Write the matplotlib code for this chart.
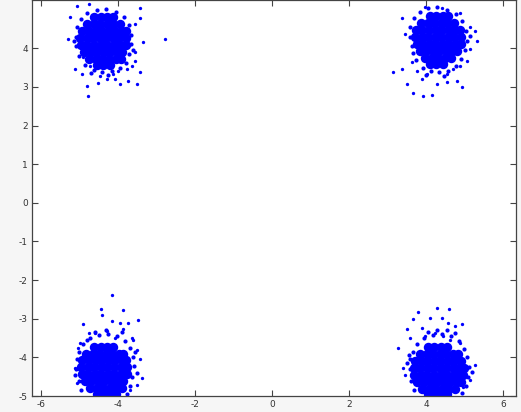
import matplotlib
matplotlib.use("Agg")
import matplotlib.pyplot as plt

# ---- data (four clusters: dense core, fuzzy rim, sparse outliers) ----
tl_core_x = [-4.62, -4.45, -4.28, -4.12,
             -4.80, -4.63, -4.46, -4.29, -4.12, -3.95,
             -4.92, -4.75, -4.58, -4.41, -4.24, -4.07, -3.90, -3.80,
             -4.98, -4.81, -4.64, -4.47, -4.30, -4.13, -3.96, -3.79,
             -4.96, -4.79, -4.62, -4.45, -4.28, -4.11, -3.94, -3.80,
             -4.88, -4.71, -4.54, -4.37, -4.20, -4.03, -3.88,
             -4.74, -4.57, -4.40, -4.23, -4.06, -3.92,
             -4.55, -4.38, -4.21]
tl_core_y = [4.80, 4.80, 4.80, 4.80,
             4.62, 4.62, 4.62, 4.62, 4.62, 4.62,
             4.44, 4.44, 4.44, 4.44, 4.44, 4.44, 4.44, 4.44,
             4.26, 4.26, 4.26, 4.26, 4.26, 4.26, 4.26, 4.26,
             4.08, 4.08, 4.08, 4.08, 4.08, 4.08, 4.08, 4.08,
             3.90, 3.90, 3.90, 3.90, 3.90, 3.90, 3.90,
             3.72, 3.72, 3.72, 3.72, 3.72, 3.72,
             3.58, 3.58, 3.58]
tl_rim_x = [-5.10, -5.08, -5.05, -4.95, -4.80, -4.55, -4.30, -4.05, -3.85, -3.70,
            -3.65, -3.66, -3.72, -3.80, -3.95, -4.15, -4.40, -4.62, -4.85, -5.00,
            -5.15, -3.60, -4.25, -4.70]
tl_rim_y = [4.30, 4.05, 4.55, 4.75, 4.92, 5.00, 5.02, 4.95, 4.82, 4.60,
            4.35, 4.10, 3.85, 3.62, 3.48, 3.40, 3.38, 3.45, 3.58, 3.80,
            4.18, 3.95, 3.30, 3.35]
tl_out_x = [-5.25, -5.06, -4.75, -3.43, -3.43, -3.56, -3.35, -2.78, -5.30, -5.12,
            -4.94, -4.81, -4.78, -4.52, -4.29, -4.08, -3.95, -3.74, -3.51, -3.43,
            -3.56, -3.64, -4.13, -4.47, -3.77, -4.73, -4.39, -4.00, -4.91, -3.56]
tl_out_y = [4.82, 5.10, 5.15, 5.03, 4.79, 4.62, 4.15, 4.25, 4.23, 3.46,
            3.33, 3.03, 2.77, 3.10, 3.20, 3.20, 3.08, 3.15, 3.08, 3.38,
            3.67, 3.54, 3.33, 3.28, 3.46, 3.54, 3.51, 3.41, 3.77, 3.90]

tr_core_x = [4.10, 4.27, 4.44, 4.58,
             3.88, 4.05, 4.22, 4.39, 4.56, 4.73,
             3.74, 3.91, 4.08, 4.25, 4.42, 4.59, 4.76, 4.88,
             3.72, 3.89, 4.06, 4.23, 4.40, 4.57, 4.74, 4.90,
             3.76, 3.93, 4.10, 4.27, 4.44, 4.61, 4.78, 4.90,
             3.84, 4.01, 4.18, 4.35, 4.52, 4.69, 4.82,
             3.98, 4.15, 4.32, 4.49, 4.66,
             4.10, 4.27, 4.44]
tr_core_y = [4.84, 4.84, 4.84, 4.84,
             4.66, 4.66, 4.66, 4.66, 4.66, 4.66,
             4.48, 4.48, 4.48, 4.48, 4.48, 4.48, 4.48, 4.48,
             4.30, 4.30, 4.30, 4.30, 4.30, 4.30, 4.30, 4.30,
             4.12, 4.12, 4.12, 4.12, 4.12, 4.12, 4.12, 4.12,
             3.94, 3.94, 3.94, 3.94, 3.94, 3.94, 3.94,
             3.76, 3.76, 3.76, 3.76, 3.76,
             3.60, 3.60, 3.60]
tr_rim_x = [3.58, 3.60, 3.65, 3.70, 3.85, 4.05, 4.30, 4.55, 4.78, 4.95,
            5.05, 5.08, 5.02, 4.92, 4.78, 4.58, 4.35, 4.12, 3.92, 3.75,
            3.66, 4.48, 4.00, 5.15]
tr_rim_y = [4.30, 4.55, 4.05, 4.78, 4.95, 5.05, 5.06, 5.00, 4.88, 4.70,
            4.45, 4.20, 3.95, 3.72, 3.55, 3.42, 3.38, 3.40, 3.50, 3.70,
            3.88, 3.28, 3.30, 4.33]
tr_out_x = [3.38, 3.45, 3.97, 4.42, 4.88, 5.14, 5.27, 5.32, 5.14, 5.06,
            3.14, 3.38, 3.51, 3.66, 3.92, 4.16, 4.29, 4.55, 4.94, 4.81,
            3.90, 4.03, 3.77, 4.55, 4.70, 4.88, 3.64]
tr_out_y = [4.79, 4.36, 5.08, 5.05, 4.92, 4.56, 4.44, 4.18, 3.97, 3.67,
            3.38, 3.46, 3.08, 2.85, 2.77, 2.80, 3.08, 3.13, 3.00, 3.15,
            3.20, 3.33, 3.41, 3.33, 3.46, 3.54, 3.64]

bl_core_x = [-4.62, -4.45, -4.28, -4.12,
             -4.82, -4.65, -4.48, -4.31, -4.14, -3.98, -3.86,
             -4.92, -4.75, -4.58, -4.41, -4.24, -4.07, -3.90, -3.78,
             -4.95, -4.78, -4.61, -4.44, -4.27, -4.10, -3.93, -3.76,
             -4.94, -4.77, -4.60, -4.43, -4.26, -4.09, -3.92, -3.76,
             -4.86, -4.69, -4.52, -4.35, -4.18, -4.01, -3.86,
             -4.72, -4.55, -4.38, -4.21, -4.04, -3.90,
             -4.55, -4.38, -4.21, -4.05]
bl_core_y = [-3.72, -3.72, -3.72, -3.72,
             -3.90, -3.90, -3.90, -3.90, -3.90, -3.90, -3.90,
             -4.08, -4.08, -4.08, -4.08, -4.08, -4.08, -4.08, -4.08,
             -4.26, -4.26, -4.26, -4.26, -4.26, -4.26, -4.26, -4.26,
             -4.44, -4.44, -4.44, -4.44, -4.44, -4.44, -4.44, -4.44,
             -4.62, -4.62, -4.62, -4.62, -4.62, -4.62, -4.62,
             -4.80, -4.80, -4.80, -4.80, -4.80, -4.80,
             -4.95, -4.95, -4.95, -4.95]
bl_rim_x = [-5.08, -5.05, -5.02, -5.00, -4.90, -4.72, -4.50, -4.25, -4.02, -3.82,
            -3.68, -3.60, -3.58, -3.62, -3.68, -3.75, -4.95, -4.30, -4.60, -3.90,
            -3.50, -3.55, -4.80, -5.12]
bl_rim_y = [-4.30, -4.05, -4.60, -3.85, -3.65, -3.50, -3.42, -3.40, -3.45, -3.58,
            -3.75, -3.98, -4.22, -4.50, -4.75, -4.95, -4.85, -3.30, -3.35, -3.35,
            -4.40, -3.85, -3.55, -4.45]
bl_out_x = [-4.16, -3.87, -4.44, -4.42, -4.91, -4.16, -3.95, -3.74, -3.48, -4.60,
            -4.29, -3.87, -3.64, -3.61, -3.51, -3.43, -3.38, -3.51, -5.12, -5.04,
            -4.99, -4.75, -5.06, -3.69, -4.08]
bl_out_y = [-2.38, -2.77, -2.74, -2.90, -3.13, -3.05, -3.10, -3.10, -3.03, -3.36,
            -3.31, -3.26, -3.49, -3.56, -3.82, -4.03, -4.54, -4.72, -4.28, -3.77,
            -3.64, -3.38, -4.67, -4.85, -3.49]

br_core_x = [4.05, 4.22, 4.39, 4.56,
             3.85, 4.02, 4.19, 4.36, 4.53, 4.70, 4.84,
             3.72, 3.89, 4.06, 4.23, 4.40, 4.57, 4.74, 4.90,
             3.68, 3.85, 4.02, 4.19, 4.36, 4.53, 4.70, 4.87, 4.98,
             3.70, 3.87, 4.04, 4.21, 4.38, 4.55, 4.72, 4.89, 4.96,
             3.78, 3.95, 4.12, 4.29, 4.46, 4.63, 4.80, 4.90,
             3.90, 4.07, 4.24, 4.41, 4.58, 4.75,
             4.05, 4.22, 4.39, 4.56]
br_core_y = [-3.74, -3.74, -3.74, -3.74,
             -3.92, -3.92, -3.92, -3.92, -3.92, -3.92, -3.92,
             -4.10, -4.10, -4.10, -4.10, -4.10, -4.10, -4.10, -4.10,
             -4.28, -4.28, -4.28, -4.28, -4.28, -4.28, -4.28, -4.28, -4.28,
             -4.46, -4.46, -4.46, -4.46, -4.46, -4.46, -4.46, -4.46, -4.46,
             -4.64, -4.64, -4.64, -4.64, -4.64, -4.64, -4.64, -4.64,
             -4.82, -4.82, -4.82, -4.82, -4.82, -4.82,
             -4.95, -4.95, -4.95, -4.95]
br_rim_x = [3.58, 3.60, 3.62, 3.66, 3.78, 3.95, 4.18, 4.42, 4.65, 4.85,
            5.00, 5.08, 5.12, 5.10, 5.05, 4.95, 3.70, 4.30, 4.05, 4.75,
            5.20, 3.50, 3.55, 4.55]
br_rim_y = [-4.30, -4.05, -4.60, -3.85, -3.65, -3.50, -3.42, -3.40, -3.45, -3.58,
            -3.78, -4.00, -4.25, -4.50, -4.75, -4.92, -4.85, -3.30, -3.35, -3.38,
            -4.38, -4.15, -3.95, -3.28]
br_out_x = [4.29, 3.79, 3.66, 4.60, 4.10, 4.42, 4.57, 4.75, 4.94, 3.51,
            3.90, 3.97, 4.23, 4.44, 3.27, 3.58, 3.40, 3.45, 5.27, 5.14,
            4.96, 3.84, 4.29, 3.66, 4.88, 4.62]
br_out_y = [-2.72, -2.82, -3.00, -2.74, -2.97, -2.97, -3.10, -3.18, -3.13, -3.26,
            -3.23, -3.44, -3.36, -3.44, -3.77, -3.51, -4.28, -4.46, -4.21, -4.59,
            -4.77, -4.77, -4.95, -4.59, -3.62, -3.56]

x_ticks = [-6, -4, -2, 0, 2, 4, 6]
y_ticks = [-5, -4, -3, -2, -1, 0, 1, 2, 3, 4]

# ---- figure ----
fig = plt.figure(figsize=(5.21, 4.12), dpi=100, facecolor="#f6f6f6")
ax = fig.add_axes([32 / 521, 16 / 412, 484 / 521, 396 / 412])
ax.set_facecolor("white")

blue = "#0000ff"
for cx, cy in [(tl_core_x, tl_core_y), (tr_core_x, tr_core_y),
               (bl_core_x, bl_core_y), (br_core_x, br_core_y)]:
    ax.plot(cx, cy, linestyle="none", marker="o", markersize=6.8,
            markeredgewidth=0, color=blue)
for rx, ry in [(tl_rim_x, tl_rim_y), (tr_rim_x, tr_rim_y),
               (bl_rim_x, bl_rim_y), (br_rim_x, br_rim_y)]:
    ax.plot(rx, ry, linestyle="none", marker="o", markersize=3.0,
            markeredgewidth=0, color=blue)
for ox, oy in [(tl_out_x, tl_out_y), (tr_out_x, tr_out_y),
               (bl_out_x, bl_out_y), (br_out_x, br_out_y)]:
    ax.plot(ox, oy, linestyle="none", marker="o", markersize=2.4,
            markeredgewidth=0, color=blue)

ax.set_xlim(-6.23, 6.34)
ax.set_ylim(-5, 5.25)
ax.set_xticks(x_ticks)
ax.set_yticks(y_ticks)
ax.set_xticklabels([str(v) for v in x_ticks])
ax.set_yticklabels([str(v) for v in y_ticks])
ax.tick_params(direction="in", length=4, width=0.8, top=True, right=True,
               labelsize=6.5, labelcolor="#333333", color="#444444", pad=3)
for s in ax.spines.values():
    s.set_color("#444444")
    s.set_linewidth(0.9)

fig.savefig("out.png", dpi=100, facecolor=fig.get_facecolor())
